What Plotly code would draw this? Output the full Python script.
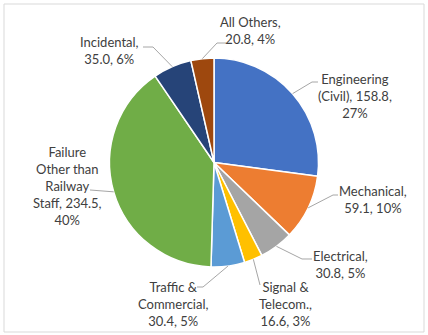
import math
import plotly.graph_objects as go

categories = ["Engineering (Civil)", "Mechanical", "Electrical", "Signal & Telecom.",
              "Traffic & Commercial", "Failure Other than Railway Staff", "Incidental", "All Others"]
values = [158.8, 59.1, 30.8, 16.6, 30.4, 234.5, 35.0, 20.8]
label_lines = [
    ["Engineering", "(Civil), 158.8,", "27%"],
    ["Mechanical,", "59.1, 10%"],
    ["Electrical,", "30.8, 5%"],
    ["Signal &", "Telecom.,", "16.6, 3%"],
    ["Traffic &", "Commercial,", "30.4, 5%"],
    ["Failure", "Other than", "Railway", "Staff, 234.5,", "40%"],
    ["Incidental,", "35.0, 6%"],
    ["All Others,", "20.8, 4%"],
]
colors = ["#4472C4", "#ED7D31", "#A5A5A5", "#FFC000", "#5B9BD5", "#70AD47", "#264478", "#9E480E"]

W, H = 428, 335
cx, cy, R = 214, 162.5, 104.5

# label placement (pixel centers) and leader elbow/end points (layout)
label_pos = [(355, 96), (373, 199.5), (340, 264.5), (285, 304), (173, 304), (67, 185.5), (110, 50.5), (250, 31)]
leader_pts = [
    [(312, 82), (318, 82)],
    [(333, 195), (338, 195)],
    [(302, 259), (312, 259)],
    [(260, 285)],
    [(203, 287), (197, 287)],
    [(90, 190)],
    [(153, 47), (143, 47)],
    [(217, 43), (226, 43)],
]

def px(x):
    return x / W

def py(y):
    return 1 - y / H

fig = go.Figure(go.Pie(
    labels=categories, values=values, sort=False, direction="clockwise", rotation=0,
    marker=dict(colors=colors, line=dict(color="white", width=1.5)),
    textinfo="none", hoverinfo="label+value+percent", showlegend=False,
    domain=dict(x=[px(cx - R), px(cx + R)], y=[py(cy + R), py(cy - R)]),
))

total = sum(values)
cum = 0
shapes = []
annotations = []
for i, v in enumerate(values):
    mid = (cum + v / 2) / total * 2 * math.pi
    cum += v
    sx, sy = cx + R * math.sin(mid), cy - R * math.cos(mid)
    pts = [(sx, sy)] + leader_pts[i]
    path = "M " + " L ".join(f"{px(a):.5f},{py(b):.5f}" for a, b in pts)
    shapes.append(dict(type="path", xref="paper", yref="paper", path=path,
                       line=dict(color="#A6A6A6", width=1)))
    lx, ly = label_pos[i]
    annotations.append(dict(x=px(lx), y=py(ly), xref="paper", yref="paper",
                            text="<br>".join(label_lines[i]), showarrow=False,
                            xanchor="center", yanchor="middle", align="center",
                            font=dict(family="Lato, Open Sans, sans-serif", size=13, color="#404040")))

shapes.append(dict(type="rect", xref="paper", yref="paper",
                   x0=px(4), x1=px(424), y0=py(332), y1=py(4),
                   line=dict(color="#D9D9D9", width=1)))

fig.update_layout(width=W, height=H, margin=dict(l=0, r=0, t=0, b=0),
                  paper_bgcolor="white", plot_bgcolor="white",
                  shapes=shapes, annotations=annotations)
fig.write_html("out.html")
